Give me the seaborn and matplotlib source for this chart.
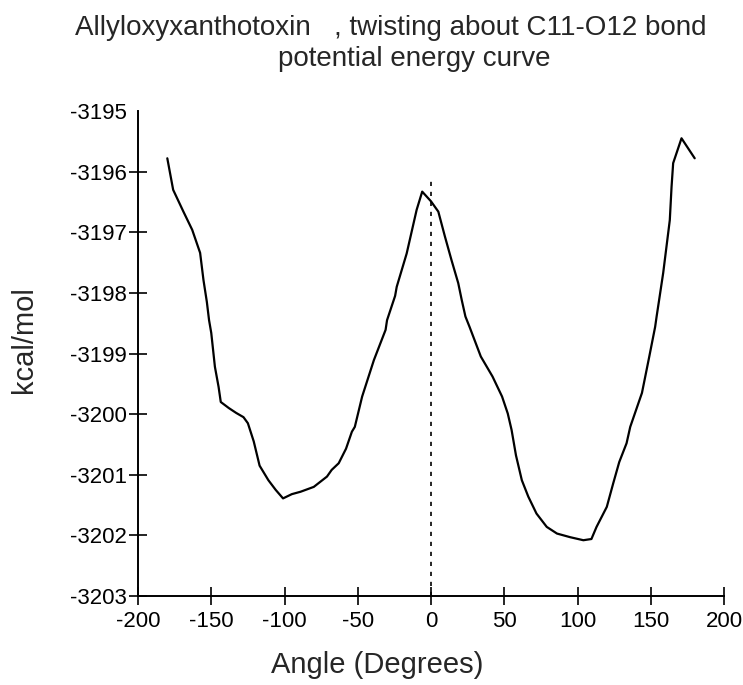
import matplotlib
matplotlib.use("Agg")
import matplotlib.pyplot as plt
import seaborn as sns
import pandas as pd

angles = [-180, -176, -169, -163, -157.6, -155.3, -153, -151.5, -150, -147.5,
          -145, -143.5, -138, -133, -128, -125, -121, -117, -111, -106,
          -101, -95, -89, -80, -71, -67.8, -63, -58, -54, -52,
          -47, -39, -31, -30, -24.5, -23.4, -16.6, -9.8, -6, 0,
          5, 9.5, 14, 18.6, 21, 23.5, 26.3, 34, 42, 48.5,
          52.4, 55, 58, 62, 66.4, 72, 79, 86, 95, 104,
          109.5, 113, 120, 124.4, 128.5, 133.5, 136, 144, 149, 153,
          154, 155.7, 158.5, 163, 164.2, 165.3, 171, 180]
energies = [-3195.78, -3196.30, -3196.66, -3196.96, -3197.34, -3197.79, -3198.15, -3198.45, -3198.66, -3199.22,
            -3199.55, -3199.80, -3199.90, -3199.98, -3200.05, -3200.15, -3200.45, -3200.85, -3201.09, -3201.25,
            -3201.39, -3201.32, -3201.28, -3201.20, -3201.03, -3200.92, -3200.81, -3200.57, -3200.29, -3200.21,
            -3199.71, -3199.11, -3198.61, -3198.45, -3198.05, -3197.90, -3197.35, -3196.63, -3196.33, -3196.49,
            -3196.66, -3197.07, -3197.46, -3197.84, -3198.12, -3198.39, -3198.56, -3199.05, -3199.38, -3199.71,
            -3199.99, -3200.26, -3200.68, -3201.09, -3201.36, -3201.64, -3201.86, -3201.97, -3202.03, -3202.08,
            -3202.06, -3201.86, -3201.53, -3201.14, -3200.79, -3200.48, -3200.21, -3199.65, -3199.05, -3198.56,
            -3198.39, -3198.12, -3197.67, -3196.80, -3196.25, -3195.86, -3195.45, -3195.78]

x_ticks = [-200, -150, -100, -50, 0, 50, 100, 150, 200]
y_ticks = [-3203, -3202, -3201, -3200, -3199, -3198, -3197, -3196, -3195]
title_line1 = "Allyloxyxanthotoxin   , twisting about C11-O12 bond"
title_line2 = "potential energy curve"
x_label = "Angle (Degrees)"
y_label = "kcal/mol"
marker_angle = 0
marker_top = -3196.1

sns.set_style("ticks")
plt.rcParams['font.family'] = ['Liberation Sans', 'DejaVu Sans']

df = pd.DataFrame({"angle": angles, "energy": energies})

fig = plt.figure(figsize=(7.43, 6.85), dpi=100)
ax = fig.add_axes([138/743, 1 - 596/685, (724-138)/743, (596-111)/685])

sns.lineplot(data=df, x="angle", y="energy", sort=False, color="black",
             linewidth=1.6, ax=ax)
ax.vlines(marker_angle, y_ticks[0], marker_top, colors="black",
          linewidth=1.2, linestyles=(0, (2.5, 3.5)))

ax.set_xlim(-200, 200)
ax.set_ylim(-3203, -3195)
ax.set_xticks(x_ticks)
ax.set_yticks(y_ticks)
ax.set_xticklabels([str(v) for v in x_ticks])
ax.set_yticklabels([str(v) for v in y_ticks])
ax.set_xlabel("")
ax.set_ylabel("")

for s in ["top", "right"]:
    ax.spines[s].set_visible(False)
for s in ["left", "bottom"]:
    ax.spines[s].set_linewidth(1.4)
    ax.spines[s].set_color("black")

ax.tick_params(axis="both", direction="inout", length=13, width=1.2,
               colors="black", labelsize=16)
ax.tick_params(axis="x", pad=4)
ax.tick_params(axis="y", pad=1.5)
ax.yaxis.get_major_ticks()[-1].tick1line.set_visible(False)

fig.text(391/743, 1 - 28/685, title_line1, ha="center", va="center", fontsize=20)
fig.text(414/743, 1 - 59/685, title_line2, ha="center", va="center", fontsize=20)
fig.text(377/743, 1 - 665/685, x_label, ha="center", va="center", fontsize=21)
fig.text(24/743, 1 - 340/685, y_label, ha="center", va="center", fontsize=21,
         rotation=90)

fig.savefig("out.png", dpi=100)
